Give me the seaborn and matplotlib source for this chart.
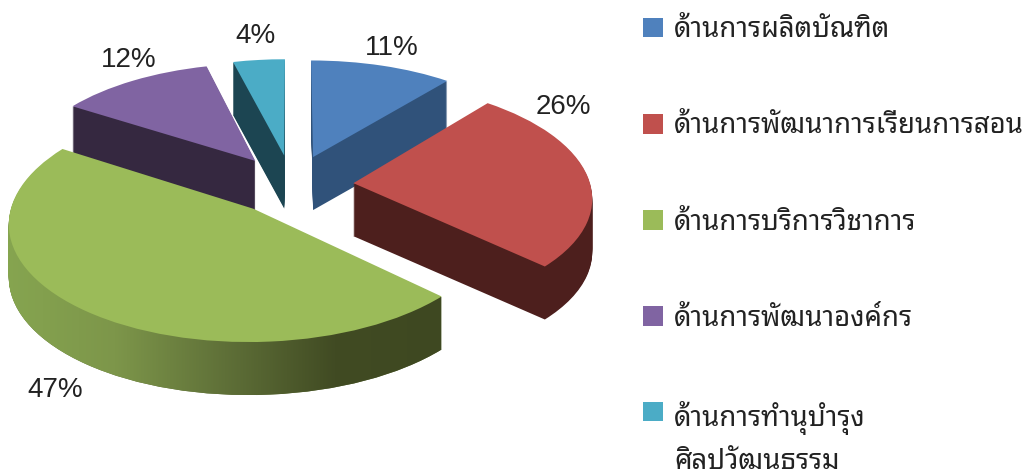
# -*- coding:utf-8 -*-

import numpy as np
import matplotlib.pyplot as plt
import seaborn as sns
from matplotlib.patches import Patch, Wedge
from matplotlib.path import Path
from matplotlib.transforms import Transform

# Data
categories = ["ด้านการผลิตบัณฑิต",
              "ด้านการพัฒนาการเรียนการสอน",
              "ด้านการบริการวิชาการ",
              "ด้านการพัฒนาองค์กร",
              "ด้านการทำนุบำรุง\nศิลปวัฒนธรรม"]
shares = [11, 26, 47, 12, 4]
top_colors = ["#4f81bd", "#c0504d", "#9bbb59", "#8064a2", "#4bacc6"]
wall_colors = ["#30527a", "#4d1f1d", "#5f7038", "#352840", "#1c4552"]
green_rim = ["#86a550", "#7d964a", "#5f7038", "#414b23", "#3e4821"]
label_pos = [(392, 48), (563, 107), (55, 390), (129, 60), (256, 36)]

explode = [0.27, 0.26, 0.26, 0.27, 0.27]
draw_order = [4, 0, 3, 1, 2]
depth = 53
cx, cy, rx, ry, persp = 292, 185, 237, 113, 0.11


class Tilt(Transform):
    # pie coordinates -> picture pixels, far side a bit smaller
    input_dims = output_dims = 2

    def __init__(self, drop=0):
        super().__init__()
        self.drop = drop

    def transform_non_affine(self, xy):
        xy = np.asarray(xy, dtype=float)
        s = 1 / (1 + persp * xy[:, 1])
        return np.column_stack([cx + rx * xy[:, 0] * s,
                                cy - ry * xy[:, 1] * s + self.drop])


sns.set_theme(style="white")
plt.rcParams["font.family"] = ["Noto Sans Thai Looped", "Liberation Sans", "DejaVu Sans"]

fig = plt.figure(figsize=(10.26, 4.74), dpi=100)
ax = fig.add_axes([0, 0, 1, 1])
wedges, _ = ax.pie(shares, explode=explode, startangle=90, counterclock=False,
                   colors=top_colors, frame=False,
                   wedgeprops={"linewidth": 0})

for z, i in enumerate(draw_order):
    w = wedges[i]
    w.set_transform(Tilt() + ax.transData)
    w.set_zorder(z * 3 + 2)
    layers = []
    for d in range(1, depth + 1):
        side = Wedge(w.center, w.r, w.theta1, w.theta2, linewidth=0,
                     facecolor=wall_colors[i], zorder=z * 3)
        side.set_transform(Tilt(d) + ax.transData)
        ax.add_artist(side)
        layers.append(Tilt(d).transform_path(side.get_path().transformed(side.get_patch_transform())))
    if i == 2:
        rim = sns.blend_palette(green_rim, n_colors=256, as_cmap=True)
        im = ax.imshow(np.linspace(0, 1, 256)[None, :], cmap=rim, aspect="auto",
                       extent=(5, 445, 400, 200), zorder=z * 3 + 1)
        im.set_clip_path(Path.make_compound_path(*layers), ax.transData)

ax.set_aspect("auto")
ax.set_xlim(0, 1026)
ax.set_ylim(474, 0)
ax.axis("off")

for share, (x, y) in zip(shares, label_pos):
    ax.text(x, y, f"{share}%", ha="center", va="center", fontsize=20,
            color="#222222", family=["Liberation Sans", "DejaVu Sans"], zorder=30)

handles = [Patch(facecolor=c, linewidth=0) for c in top_colors]
leg = ax.legend(handles, categories, loc="upper left", bbox_to_anchor=(0.627, 0.966),
                frameon=False, fontsize=19.8, labelspacing=2.48, handlelength=0.72,
                handleheight=0.72, handletextpad=0.4, borderpad=0, borderaxespad=0,
                labelcolor="#222222")
leg.get_texts()[4].set_linespacing(1.62)
leg.legend_handles[4].set_y(20)
leg.set_zorder(40)

plt.savefig("out.png", dpi=100)
